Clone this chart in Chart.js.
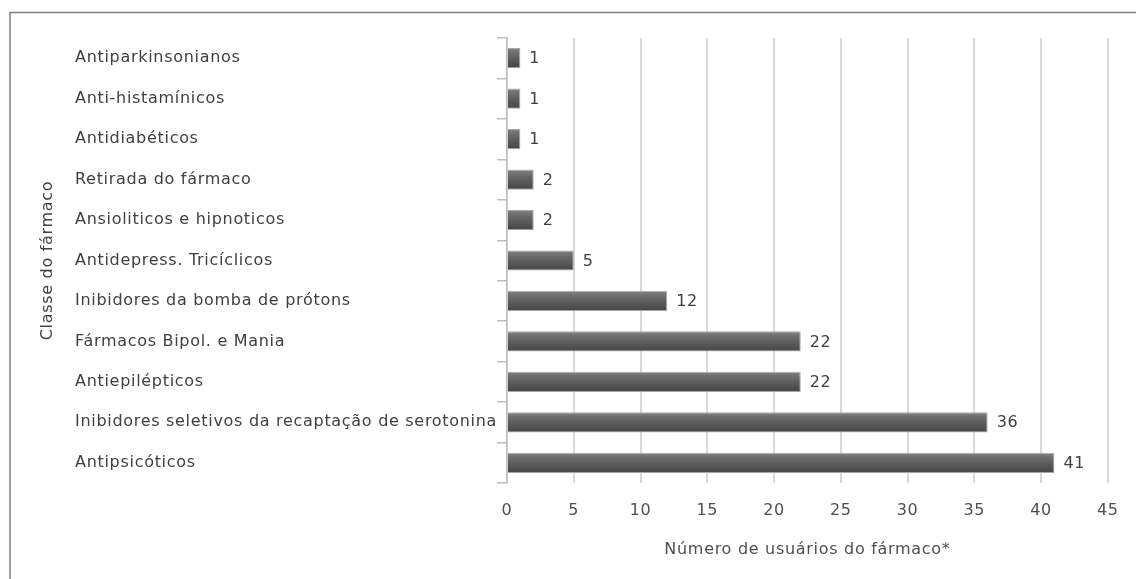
<!DOCTYPE html>
<html>
<head>
<meta charset="utf-8">
<script src="https://cdn.jsdelivr.net/npm/chart.js@4/dist/chart.umd.min.js"></script>
<style>
  body { margin: 0; background: #fff; }
  canvas { display: block; }
</style>
</head>
<body>
<canvas id="grafica" width="1136" height="579"></canvas>
<script>
// datos (de arriba hacia abajo)
const classes = [
  'Antiparkinsonianos',
  'Anti-histamínicos',
  'Antidiabéticos',
  'Retirada do fármaco',
  'Ansioliticos e hipnoticos',
  'Antidepress. Tricíclicos',
  'Inibidores da bomba de prótons',
  'Fármacos Bipol. e Mania',
  'Antiepilépticos',
  'Inibidores seletivos da recaptação de serotonina',
  'Antipsicóticos'
];
const usuarios = [1, 1, 1, 2, 2, 5, 12, 22, 22, 36, 41];
const xTicks = [0, 5, 10, 15, 20, 25, 30, 35, 40, 45];

const fuente = "'DejaVu Sans', 'Noto Sans', sans-serif";
const tam = 16;
const txtColor = '#404040';

// degradado para cada barra
function colorBarra(ctx) {
  const chart = ctx.chart;
  const y = chart.scales.y;
  if (!y || ctx.dataIndex === undefined) return '#595959';
  const cy = y.getPixelForValue(ctx.dataIndex);
  if (!isFinite(cy)) return '#595959';
  const h = 10;
  const g = chart.ctx.createLinearGradient(0, cy - h, 0, cy + h);
  g.addColorStop(0, '#8c8c8c');
  g.addColorStop(0.12, '#767676');
  g.addColorStop(0.5, '#5e5e5e');
  g.addColorStop(1, '#454545');
  return g;
}

const marco = {
  id: 'marco',
  beforeDraw(chart) {
    const c = chart.ctx;
    c.letterSpacing = '0.7px';
    c.save();
    c.fillStyle = '#fff';
    c.fillRect(0, 0, chart.width, chart.height);
    c.strokeStyle = '#7f7f7f';
    c.lineWidth = 1.5;
    c.beginPath();
    c.moveTo(10, chart.height);
    c.lineTo(10, 12.5);
    c.lineTo(chart.width, 12.5);
    c.stroke();
    c.restore();
  }
};

const etiquetas = {
  id: 'etiquetas',
  afterDatasetsDraw(chart) {
    const c = chart.ctx;
    const meta = chart.getDatasetMeta(0);
    c.save();
    c.font = tam + 'px ' + fuente;
    c.fillStyle = txtColor;
    c.textAlign = 'left';
    c.textBaseline = 'middle';
    meta.data.forEach((bar, i) => {
      c.fillText(String(usuarios[i]), bar.x + 9, bar.y + 1);
    });
    c.restore();
  }
};

new Chart(document.getElementById('grafica'), {
  type: 'bar',
  data: {
    labels: classes,
    datasets: [{
      data: usuarios,
      backgroundColor: colorBarra,
      borderColor: '#a6a6a6',
      borderWidth: 1,
      categoryPercentage: 1,
      barPercentage: 0.5
    }]
  },
  options: {
    indexAxis: 'y',
    responsive: false,
    animation: false,
    layout: { padding: { left: 75, top: 38, right: 27, bottom: 0 } },
    plugins: {
      legend: { display: false },
      tooltip: { enabled: false }
    },
    scales: {
      x: {
        min: 0,
        max: 45,
        afterBuildTicks: s => { s.ticks = xTicks.map(v => ({ value: v })); },
        afterFit: s => { s.height = 96; },
        grid: { color: '#d9d9d9', lineWidth: 2, drawTicks: false },
        border: { display: false },
        ticks: { color: '#505050', padding: 18, font: { family: fuente, size: tam } },
        title: {
          display: true,
          text: 'Número de usuários do fármaco*',
          color: '#505050',
          font: { family: fuente, size: tam },
          padding: { top: 0, bottom: 20 }
        }
      },
      y: {
        afterFit: s => { s.width = 507 - 75; },
        grid: { drawOnChartArea: false, drawTicks: true, tickLength: 10, color: '#bfbfbf', lineWidth: 1.5 },
        border: { color: '#bfbfbf', width: 1.5 },
        ticks: { crossAlign: 'far', color: txtColor, font: { family: fuente, size: tam } },
        title: {
          display: true,
          text: 'Classe do fármaco',
          color: txtColor,
          font: { family: fuente, size: tam },
          padding: { top: -37, bottom: 0 }
        }
      }
    }
  },
  plugins: [marco, etiquetas]
});
</script>
</body>
</html>
